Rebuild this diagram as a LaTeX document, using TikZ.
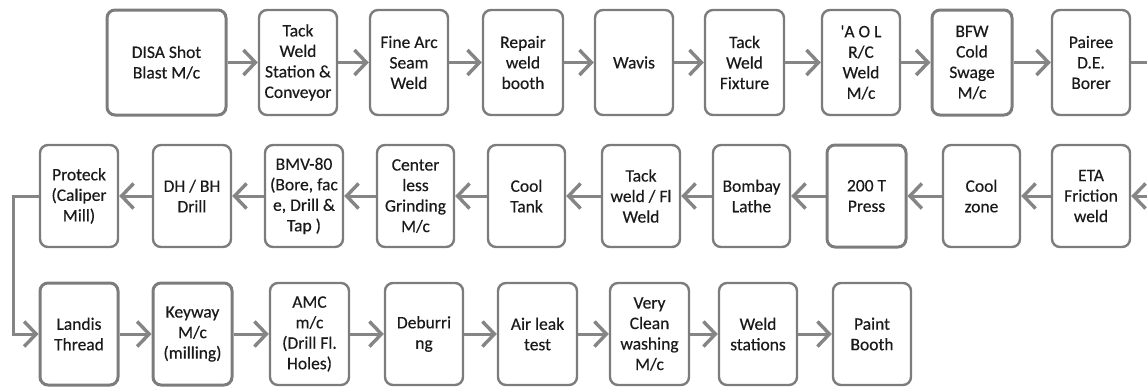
\documentclass[tikz,border=0pt]{standalone}
\usepackage{fontspec}
\setmainfont{Carlito}
\newfontfamily\boxfont{Carlito}[FakeBold=0.35]
\usetikzlibrary{arrows.meta}
\definecolor{boxgray}{HTML}{7C7C7C}
\definecolor{arrgray}{HTML}{858585}
\definecolor{txt}{HTML}{1A1A1A}
\begin{document}
\begin{tikzpicture}[x=1pt,y=-1pt,
  box/.style={draw=boxgray, line width=2.4pt, rounded corners=8pt, fill=white,
    align=center, text=txt, inner sep=1pt, minimum width=78pt,
    font=\boxfont\fontsize{17.5}{20.5}\selectfont},
  boxa/.style={box, minimum height=105pt},
  boxb/.style={box, minimum height=102pt},
  thick box/.style={line width=3pt},
  flow/.style={draw=arrgray, line width=3pt,
    -{Straight Barb[length=12pt,width=25pt,line width=3.4pt]}},
  plain/.style={draw=arrgray, line width=3pt}]
\useasboundingbox (0,0) rectangle (1147,386);
% row 1
\node[boxa, thick box, minimum width=119pt] (a1) at (166.5,62.5) {DISA Shot\\Blast M/c};
\node[boxa] (a2) at (298,62.5) {Tack\\Weld\\Station \&\\Conveyor};
\node[boxa] (a3) at (409,62.5) {Fine Arc\\Seam\\Weld};
\node[boxa, minimum width=80pt] (a4) at (523,62.5) {Repair\\weld\\booth};
\node[boxa] (a5) at (634,62.5) {Wavis};
\node[boxa, minimum width=79pt] (a6) at (744.5,62.5) {Tack\\Weld\\Fixture};
\node[boxa] (a7) at (861,62.5) {'A O L\\R/C\\Weld\\M/c};
\node[boxa, thick box, minimum width=80pt] (a8) at (972,62.5) {BFW\\Cold\\Swage\\M/c};
\node[boxa] (a9) at (1091,62.5) {Pairee\\D.E.\\Borer};
\coordinate (r1) at (1147,62.5);
% row 2
\node[boxb] (b1) at (79,196) {Proteck\\(Caliper\\Mill)};
\node[boxb] (b2) at (192,196) {DH / BH\\Drill};
\node[boxb] (b3) at (304,196) {BMV-80\\(Bore, fac\\e, Drill \&\\Tap )};
\node[boxb, minimum width=77pt] (b4) at (415.5,196) {Center\\less\\Grinding\\M/c};
\node[boxb, minimum width=77pt] (b5) at (526.5,196) {Cool\\Tank};
\node[boxb] (b6) at (641,196) {Tack\\weld / Fl\\Weld};
\node[boxb, minimum width=77pt] (b7) at (751.5,196) {Bombay\\Lathe};
\node[boxb, thick box, minimum width=79pt] (b8) at (866.5,196) {200 T\\Press};
\node[boxb, minimum width=77pt] (b9) at (981.5,196) {Cool\\zone};
\node[boxb] (b10) at (1091,196) {ETA\\Friction\\weld};
\coordinate (r2) at (1147,196);
% row 3
\node[boxb, thick box] (c1) at (79,334) {Landis\\Thread};
\node[boxb, thick box, minimum width=79pt] (c2) at (192.5,334) {Keyway\\M/c\\(milling)};
\node[boxb, minimum width=79pt] (c3) at (309.5,334) {AMC\\m/c\\(Drill Fl.\\Holes)};
\node[boxb] (c4) at (424,334) {Deburri\\ng};
\node[boxb, minimum width=79pt] (c5) at (537.5,334) {Air leak\\test};
\node[boxb, minimum width=79pt] (c6) at (649.5,334) {Very\\Clean\\washing\\M/c};
\node[boxb] (c7) at (758,334) {Weld\\stations};
\node[boxb] (c8) at (872,334) {Paint\\Booth};
\coordinate (turn1) at (13,196);
\coordinate (turn2) at (13,334);
% connectors row 1
\draw[flow] (a1) -- (a2);
\draw[flow] (a2) -- (a3);
\draw[flow] (a3) -- (a4);
\draw[flow] (a4) -- (a5);
\draw[flow] (a5) -- (a6);
\draw[flow] (a6) -- (a7);
\draw[flow] (a7) -- (a8);
\draw[flow] (a8) -- (a9);
\draw[plain] (a9) -- (r1);
% row 2
\draw[flow] (r2) -- (b10);
\draw[flow] (b10) -- (b9);
\draw[flow] (b9) -- (b8);
\draw[flow] (b8) -- (b7);
\draw[flow] (b7) -- (b6);
\draw[flow] (b6) -- (b5);
\draw[flow] (b5) -- (b4);
\draw[flow] (b4) -- (b3);
\draw[flow] (b3) -- (b2);
\draw[flow] (b2) -- (b1);
% down to row 3
\draw[flow, rounded corners=0pt] (b1.west) -- (turn1) -- (turn2) -- (c1.west);
% row 3
\draw[flow] (c1) -- (c2);
\draw[flow] (c2) -- (c3);
\draw[flow] (c3) -- (c4);
\draw[flow] (c4) -- (c5);
\draw[flow] (c5) -- (c6);
\draw[flow] (c6) -- (c7);
\draw[flow] (c7) -- (c8);
\end{tikzpicture}
\end{document}
